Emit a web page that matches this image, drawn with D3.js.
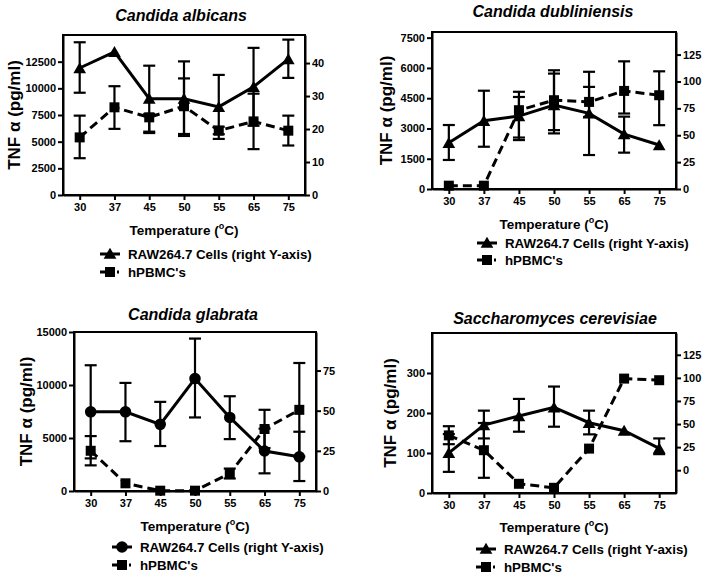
<!DOCTYPE html>
<html><head><meta charset="utf-8">
<script src="https://cdn.jsdelivr.net/npm/d3@7"></script>
<style>
body{margin:0;background:#fff;}
svg{display:block;font-family:"Liberation Sans",Arial,Helvetica,sans-serif;font-weight:bold;}
</style></head>
<body><svg id="c" width="708" height="578"></svg>
<script>
const temps = ["30","37","45","50","55","65","75"];

// Candida albicans
const albRAW      = [38.5, 43.4, 29.2, 29.2, 26.7, 32.8, 41.2];
const albRAWHi    = [46.3, null, 39.2, 40.5, 36.4, 44.6, 47.1];
const albRAWLo    = [31.0, null, 19.2, 17.9, 17.0, 21.0, 35.5];
const albPBMC     = [5400, 8220, 7280, 8320, 6030, 6900, 6030];
const albPBMCHi   = [7440, 10200, 7600, 10930, 6400, 9500, 7440];
const albPBMCLo   = [3450, 6200, 5810, 5720, 5700, 4300, 4640];

// Candida dubliniensis
const dubRAW      = [43.0, 63.5, 67.8, 78.0, 70.3, 51.0, 40.9];
const dubRAWHi    = [59.5, 91.4, 90.4, 110.4, 109.0, 67.3, null];
const dubRAWLo    = [27.0, 39.3, 45.5, 51.7, 31.6, 33.8, null];
const dubPBMC     = [165, 165, 3905, 4400, 4316, 4860, 4646];
const dubPBMCHi   = [null, null, 4560, 5720, 5060, 6326, 5832];
const dubPBMCLo   = [null, null, 2550, 2917, 3570, 3740, 3163];

// Candida glabrata
const glaRAW      = [49.3, 49.3, 41.5, 70.0, 45.8, 24.9, 21.3];
const glaRAWHi    = [78.3, 67.3, 55.5, 94.9, 59.0, 38.8, 36.9];
const glaRAWLo    = [20.3, 31.0, 28.0, 45.8, 32.3, 11.0, 6.2];
const glaPBMC     = [3795, 725, 30, 30, 1650, 5850, 7656];
const glaPBMCHi   = [5180, null, null, null, 2116, 7660, 12076];
const glaPBMCLo   = [2420, null, null, null, 1180, 4050, 3250];

// Saccharomyces cerevisiae
const cerRAW      = [18.8, 48.9, 58.7, 68.1, 51.4, 42.8, 23.6];
const cerRAWHi    = [39.1, 64.5, 77.2, 90.6, 64.5, null, 34.4];
const cerRAWLo    = [-1.8, 34.4, 41.7, 47.1, 38.8, null, 17.4];
const cerPBMC     = [144, 107, 23, 13, 111, 286, 282];
const cerPBMCHi   = [167, 175, null, null, null, null, null];
const cerPBMCLo   = [122, 38, null, null, null, null, null];

const titles = ["Candida albicans","Candida dubliniensis","Candida glabrata","Saccharomyces cerevisiae"];
const yLabel = "TNF \u03b1 (pg/ml)";
const legendRAW = "RAW264.7 Cells (right Y-axis)";
const legendPBMC = "hPBMC's";

const leftTicks = [[0,2500,5000,7500,10000,12500],[0,1500,3000,4500,6000,7500],[0,5000,10000,15000],[0,100,200,300]];
const rightTicks = [[0,10,20,30,40],[0,25,50,75,100,125],[0,25,50,75],[0,25,50,75,100,125]];

const panels = [
  {box:[63,35,305,195], ld:[0,15000], rd:[0,48.5], raw:[albRAW,albRAWHi,albRAWLo], pbmc:[albPBMC,albPBMCHi,albPBMCLo], sym:"tri",
   titleX:181, titleY:21, ylx:14, xlabY:235, legX:100, legY:[254,272]},
  {box:[432,32,676,189], ld:[0,7780], rd:[0,146], raw:[dubRAW,dubRAWHi,dubRAWLo], pbmc:[dubPBMC,dubPBMCHi,dubPBMCLo], sym:"tri",
   titleX:553, titleY:17, ylx:386, xlabY:229, legX:477, legY:[243,260]},
  {box:[74,332,316,491], ld:[0,15000], rd:[0,99], raw:[glaRAW,glaRAWHi,glaRAWLo], pbmc:[glaPBMC,glaPBMCHi,glaPBMCLo], sym:"circ",
   titleX:193, titleY:320, ylx:26, xlabY:531, legX:112, legY:[547,565]},
  {box:[432,333,676,493], ld:[0,400], rd:[-24.7,148.6], raw:[cerRAW,cerRAWHi,cerRAWLo], pbmc:[cerPBMC,cerPBMCHi,cerPBMCLo], sym:"tri",
   titleX:555, titleY:324, ylx:390, xlabY:532, legX:476, legY:[549,567]}
];

const svg = d3.select("#c");
const FONT_T = 11;

function marker(sel, type) {
  if (type === "tri") return sel.append("path").attr("d", d3.symbol().type(d3.symbolTriangle).size(70)()).attr("fill","#000");
  if (type === "circ") return sel.append("path").attr("d", d3.symbol().type(d3.symbolCircle).size(105)()).attr("fill","#000");
  return sel.append("path").attr("d", d3.symbol().type(d3.symbolSquare).size(100)()).attr("fill","#000");
}

panels.forEach((p, i) => {
  const [x0,y0,x1,y1] = p.box;
  const g = svg.append("g");
  const x = d3.scalePoint().domain(temps).range([x0,x1]).padding(0.48);
  const yl = d3.scaleLinear().domain(p.ld).range([y1,y0]);
  const yr = d3.scaleLinear().domain(p.rd).range([y1,y0]);

  // box
  g.append("rect").attr("x",x0).attr("y",y0).attr("width",x1-x0).attr("height",y1-y0)
    .attr("fill","none").attr("stroke","#000").attr("stroke-width",2);

  // axes
  const ax = g.append("g").attr("transform",`translate(0,${y1})`)
    .call(d3.axisBottom(x).tickSizeInner(5).tickSizeOuter(0).tickPadding(3));
  const al = g.append("g").attr("transform",`translate(${x0},0)`)
    .call(d3.axisLeft(yl).tickValues(leftTicks[i]).tickFormat(d3.format("d")).tickSizeInner(5).tickSizeOuter(0).tickPadding(2));
  const ar = g.append("g").attr("transform",`translate(${x1},0)`)
    .call(d3.axisRight(yr).tickValues(rightTicks[i]).tickFormat(d3.format("d")).tickSizeInner(5).tickSizeOuter(0).tickPadding(2));
  [ax,al,ar].forEach(a => {
    a.select(".domain").attr("stroke-width",2);
    a.selectAll(".tick line").attr("stroke-width",2);
    a.selectAll(".tick text").attr("font-size",FONT_T).attr("font-weight","bold")
      .attr("font-family","Liberation Sans, Arial, sans-serif").attr("fill","#000");
  });

  // error bars
  const cap = 6;
  function errBars(vals, hi, lo, y) {
    temps.forEach((t, k) => {
      const cx = x(t);
      [hi[k], lo[k]].forEach(e => {
        if (e === null || e === undefined) return;
        g.append("line").attr("x1",cx).attr("x2",cx).attr("y1",y(vals[k])).attr("y2",y(e))
          .attr("stroke","#000").attr("stroke-width",2.2);
        g.append("line").attr("x1",cx-cap).attr("x2",cx+cap).attr("y1",y(e)).attr("y2",y(e))
          .attr("stroke","#000").attr("stroke-width",2.2);
      });
    });
  }
  errBars(p.raw[0], p.raw[1], p.raw[2], yr);
  errBars(p.pbmc[0], p.pbmc[1], p.pbmc[2], yl);

  // lines
  const lineR = d3.line().x((d,k)=>x(temps[k])).y(d=>yr(d));
  const lineL = d3.line().x((d,k)=>x(temps[k])).y(d=>yl(d));
  g.append("path").attr("d", lineL(p.pbmc[0])).attr("fill","none").attr("stroke","#000")
    .attr("stroke-width",3).attr("stroke-dasharray","9,5");
  g.append("path").attr("d", lineR(p.raw[0])).attr("fill","none").attr("stroke","#000")
    .attr("stroke-width",3);

  // markers
  p.pbmc[0].forEach((v,k) => {
    marker(g.append("g").attr("transform",`translate(${x(temps[k])},${yl(v)})`), "sq");
  });
  p.raw[0].forEach((v,k) => {
    const yy = yr(v) + (p.sym === "tri" ? 1.5 : 0);
    marker(g.append("g").attr("transform",`translate(${x(temps[k])},${yy})`), p.sym);
  });

  // title
  svg.append("text").attr("x",p.titleX).attr("y",p.titleY).attr("text-anchor","middle")
    .attr("font-size",16).attr("font-style","italic").attr("font-weight","bold").text(titles[i]);

  // y label
  const cy = (y0+y1)/2;
  svg.append("text").attr("transform",`translate(${p.ylx},${cy}) rotate(-90)`)
    .attr("text-anchor","middle").attr("dominant-baseline","central")
    .attr("font-size",17).attr("font-weight","bold").text(yLabel);

  // x label
  const xl = svg.append("text").attr("x",(x0+x1)/2).attr("y",p.xlabY).attr("text-anchor","middle")
    .attr("font-size",13.5).attr("font-weight","bold");
  xl.append("tspan").text("Temperature (");
  xl.append("tspan").attr("font-size",9).attr("dy",-6).text("o");
  xl.append("tspan").attr("dy",6).text("C)");

  // legend
  const lg = svg.append("g");
  const lx = p.legX;
  // RAW
  lg.append("line").attr("x1",lx).attr("x2",lx+20).attr("y1",p.legY[0]).attr("y2",p.legY[0])
    .attr("stroke","#000").attr("stroke-width",3);
  marker(lg.append("g").attr("transform",`translate(${lx+10},${p.legY[0]+ (p.sym==="tri"?1:0)})`), p.sym);
  lg.append("text").attr("x",lx+28).attr("y",p.legY[0]).attr("dominant-baseline","central")
    .attr("font-size",13.3).attr("font-weight","bold").text(legendRAW);
  // PBMC
  lg.append("line").attr("x1",lx).attr("x2",lx+20).attr("y1",p.legY[1]).attr("y2",p.legY[1])
    .attr("stroke","#000").attr("stroke-width",3).attr("stroke-dasharray","7,10,2,10");
  marker(lg.append("g").attr("transform",`translate(${lx+10},${p.legY[1]})`), "sq");
  lg.append("text").attr("x",lx+28).attr("y",p.legY[1]).attr("dominant-baseline","central")
    .attr("font-size",13.3).attr("font-weight","bold").text(legendPBMC);
});
</script></body></html>
